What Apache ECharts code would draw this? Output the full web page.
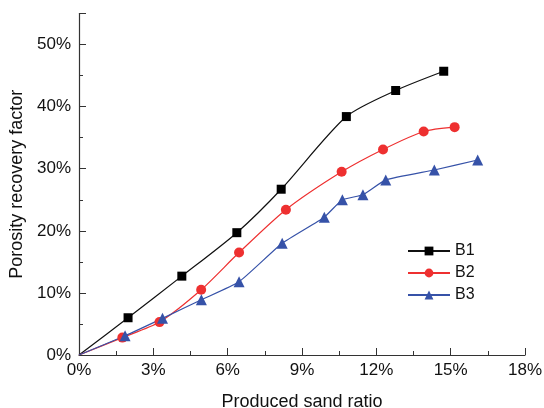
<!DOCTYPE html>
<html>
<head>
<meta charset="utf-8">
<script src="https://cdn.jsdelivr.net/npm/echarts@6/dist/echarts.min.js"></script>
<style>
  html, body { margin: 0; padding: 0; background: #fff; }
  #chart { width: 544px; height: 408px; }
</style>
</head>
<body>
<div id="chart"></div>
<script>
// 数据
const seriesNames = ["B1", "B2", "B3"];

const b1X = [0, 1.98, 4.15, 6.37, 8.16, 10.79, 12.78, 14.72];
const b1Y = [0, 6.0, 12.7, 19.7, 26.7, 38.4, 42.6, 45.7];

const b2X = [0, 1.75, 3.25, 4.93, 6.46, 8.35, 10.6, 12.27, 13.91, 15.16];
const b2Y = [0, 2.8, 5.3, 10.5, 16.5, 23.4, 29.5, 33.1, 36.0, 36.7];

const b3X = [0, 1.86, 3.37, 4.94, 6.46, 8.2, 9.9, 10.63, 11.46, 12.38, 14.34, 16.09];
const b3Y = [0, 3.1, 5.9, 8.9, 11.8, 18.0, 22.2, 25.0, 25.8, 28.2, 29.8, 31.4];

const xTicks = [0, 3, 6, 9, 12, 15, 18];
const yTicks = [0, 10, 20, 30, 40, 50];

// 原点不画标记
const pairs = (xs, ys) =>
  xs.map((x, i) => (i === 0 ? { value: [x, ys[i]], symbol: "none" } : [x, ys[i]]));

const font = "Liberation Sans, Arial, sans-serif";

const axisCommon = {
  type: "value",
  axisLine: { show: true, lineStyle: { color: "#333", width: 1.2 } },
  axisTick: { show: true, inside: true, length: 7, lineStyle: { color: "#333" } },
  minorTick: { show: true, splitNumber: 2, length: 4, lineStyle: { color: "#333" } },
  splitLine: { show: false },
  axisLabel: {
    color: "#111",
    fontSize: 17,
    fontFamily: font,
    formatter: "{value}%",
  },
};

const chart = echarts.init(document.getElementById("chart"));
chart.setOption({
  animation: false,
  grid: { left: 79, right: 19, top: 13.5, bottom: 53, outerBoundsMode: "none" },
  xAxis: Object.assign({}, axisCommon, {
    min: xTicks[0],
    max: xTicks[xTicks.length - 1],
    interval: 3,
    name: "Produced sand ratio",
    nameLocation: "middle",
    nameGap: 38,
    nameTextStyle: { color: "#111", fontSize: 18, fontFamily: font },
    axisLabel: Object.assign({}, axisCommon.axisLabel, { margin: 7 }),
  }),
  yAxis: Object.assign({}, axisCommon, {
    min: yTicks[0],
    max: 55,
    interval: 10,
    name: "Porosity recovery factor",
    nameLocation: "middle",
    nameGap: 48,
    nameTextStyle: { color: "#111", fontSize: 18, fontFamily: font },
    axisLabel: Object.assign({}, axisCommon.axisLabel, {
      margin: 8,
      showMaxLabel: false,
    }),
  }),
  legend: {
    left: 402,
    top: 238,
    orient: "vertical",
    itemWidth: 42,
    itemHeight: 11,
    itemGap: 6,
    textStyle: { color: "#111", fontSize: 16, fontFamily: font },
    data: seriesNames,
  },
  series: [
    {
      name: "B1",
      type: "line",
      data: pairs(b1X, b1Y),
      smooth: 0.25,
      symbol: "rect",
      symbolSize: 9,
      itemStyle: { color: "#000" },
      lineStyle: { color: "#111", width: 1.2 },
    },
    {
      name: "B2",
      type: "line",
      data: pairs(b2X, b2Y),
      smooth: 0.25,
      symbol: "circle",
      symbolSize: 10,
      itemStyle: { color: "#ee3030" },
      lineStyle: { color: "#ee3030", width: 1.2 },
    },
    {
      name: "B3",
      type: "line",
      data: pairs(b3X, b3Y),
      smooth: 0.15,
      symbol: "triangle",
      symbolSize: 11,
      itemStyle: { color: "#3652a8" },
      lineStyle: { color: "#3652a8", width: 1.2 },
    },
  ],
});
</script>
</body>
</html>
